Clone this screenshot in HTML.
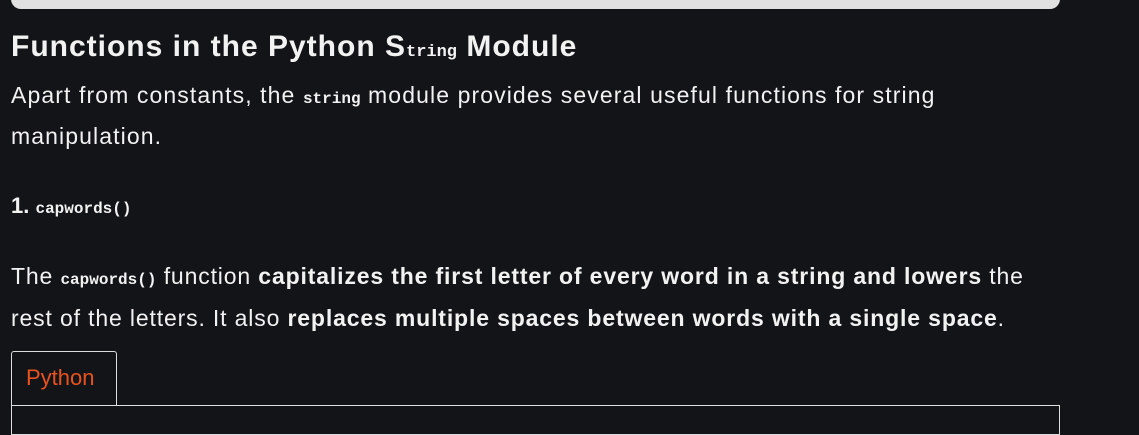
<!DOCTYPE html>
<html><head><style>
html,body{margin:0;padding:0;background:#131418;width:1139px;height:423px;overflow:hidden;font-family:"Liberation Sans",sans-serif;color:#f2f2f2}
.top{position:absolute;left:11px;top:-10px;width:1049px;height:19px;background:#e1e1e1;border-radius:0 0 10px 10px}
h1{position:absolute;left:11px;top:30px;margin:0;font-size:30px;font-weight:bold;white-space:nowrap;letter-spacing:1px}
h1 code{font-family:"Liberation Mono",monospace;font-size:17px;letter-spacing:0}
p{position:absolute;left:11px;margin:0;font-size:23px;line-height:37px;white-space:nowrap;letter-spacing:1.1px}
code{font-family:"Liberation Mono",monospace;font-weight:bold;font-size:16px;letter-spacing:0}
.h3{position:absolute;left:11px;top:193px;font-size:22px;font-weight:bold}
.tab{position:absolute;left:11px;top:351px;width:106px;height:54px;border:1px solid #ddd;border-bottom:none;border-radius:3px 3px 0 0;box-sizing:border-box}
.tab span{position:absolute;left:14px;top:13px;color:#e8521f;font-size:22px}
.code{position:absolute;left:11px;top:405px;width:1049px;height:30px;border:1px solid #ddd;box-sizing:border-box}
</style></head><body>
<div class="top"></div>
<h1>Functions in the Python S<code>tring</code> Module</h1>
<p style="top:77px">Apart from constants, the <code>string</code> module provides several useful functions for string<br>manipulation.</p>
<div class="h3">1. <code>capwords()</code></div>
<p style="top:257px;line-height:38px;letter-spacing:0.85px">The <code>capwords()</code> function <b>capitalizes the first letter of every word in a string and lowers</b> the<br>rest of the letters. It also <b>replaces multiple spaces between words with a single space</b>.</p>
<div class="tab"><span>Python</span></div>
<div class="code"></div>
</body></html>
